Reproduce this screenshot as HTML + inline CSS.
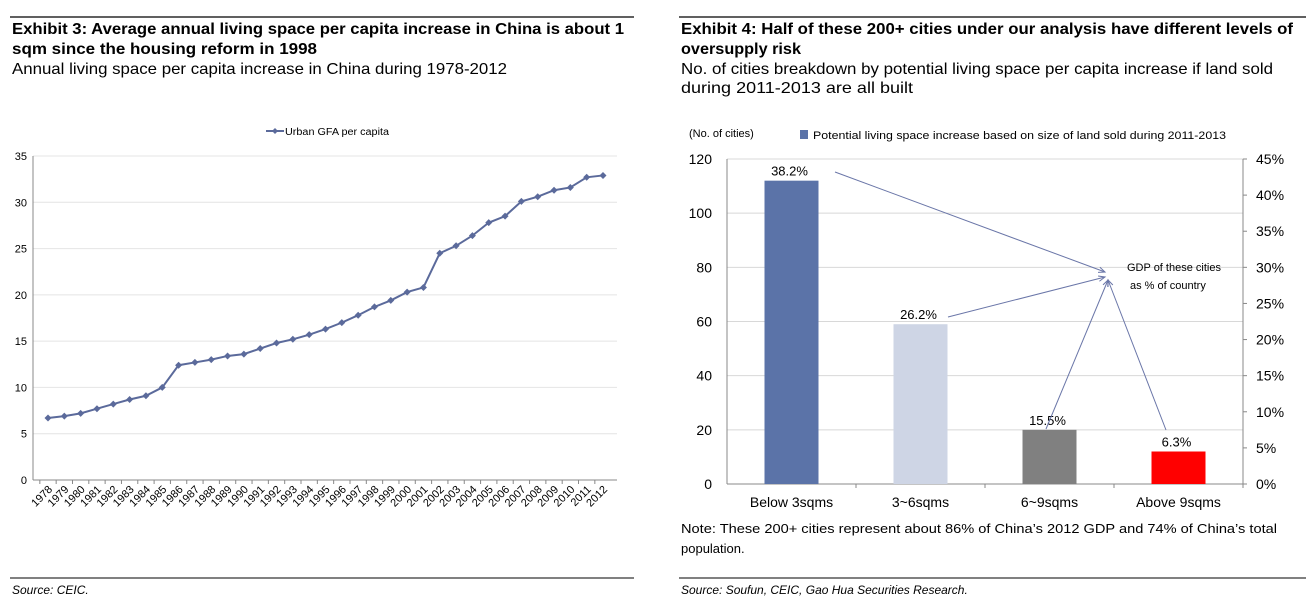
<!DOCTYPE html>
<html><head><meta charset="utf-8"><style>
body{margin:0;background:#fff;width:1316px;height:607px;overflow:hidden}
svg{display:block;font-family:"Liberation Sans",Arial,sans-serif}
</style></head><body>
<svg id="s" width="1316" height="607" viewBox="0 0 1316 607">
<g>
<line x1="10" y1="17" x2="634" y2="17" stroke="#000" stroke-width="1.2"/>
<text x="12" y="34" font-size="16" font-weight="bold" textLength="612" lengthAdjust="spacingAndGlyphs">Exhibit 3: Average annual living space per capita increase in China is about 1</text>
<text x="12" y="54" font-size="16" font-weight="bold" textLength="305" lengthAdjust="spacingAndGlyphs">sqm since the housing reform in 1998</text>
<text x="12" y="74" font-size="16" textLength="495" lengthAdjust="spacingAndGlyphs">Annual living space per capita increase in China during 1978-2012</text>
<g>
<line x1="266" y1="131" x2="284" y2="131" stroke="#5b6a9b" stroke-width="2"/>
<path d="M275 128l3 3-3 3-3-3z" fill="#5b6a9b"/>
<text x="285" y="135" font-size="10" textLength="104" lengthAdjust="spacingAndGlyphs">Urban GFA per capita</text>
</g>
<g id="lc"></g>
<line x1="10" y1="578" x2="634" y2="578" stroke="#000" stroke-width="1"/>
<text x="12" y="594" font-size="12" font-style="italic">Source: CEIC.</text>
</g>
<g>
<line x1="679" y1="17" x2="1306" y2="17" stroke="#000" stroke-width="1.2"/>
<text x="681" y="34" font-size="16" font-weight="bold" textLength="612" lengthAdjust="spacingAndGlyphs">Exhibit 4: Half of these 200+ cities under our analysis have different levels of</text>
<text x="681" y="54" font-size="16" font-weight="bold" textLength="120" lengthAdjust="spacingAndGlyphs">oversupply risk</text>
<text x="681" y="74" font-size="16" textLength="592" lengthAdjust="spacingAndGlyphs">No. of cities breakdown by potential living space per capita increase if land sold</text>
<text x="681" y="93" font-size="16" textLength="232" lengthAdjust="spacingAndGlyphs">during 2011-2013 are all built</text>
<text x="689" y="137" font-size="11">(No. of cities)</text>
<rect x="800" y="130" width="8" height="9" fill="#5b73a8"/>
<text x="813" y="139" font-size="11" textLength="413" lengthAdjust="spacingAndGlyphs">Potential living space increase based on size of land sold during 2011-2013</text>
<g id="bc"></g>
<text x="681" y="533" font-size="13" textLength="596" lengthAdjust="spacingAndGlyphs">Note: These 200+ cities represent about 86% of China’s 2012 GDP and 74% of China’s total</text>
<text x="681" y="553" font-size="13">population.</text>
<line x1="679" y1="578" x2="1306" y2="578" stroke="#000" stroke-width="1"/>
<text x="681" y="594" font-size="12" font-style="italic">Source: Soufun, CEIC, Gao Hua Securities Research.</text>
</g>
</svg>
<script>
const years=[1978,1979,1980,1981,1982,1983,1984,1985,1986,1987,1988,1989,1990,1991,1992,1993,1994,1995,1996,1997,1998,1999,2000,2001,2002,2003,2004,2005,2006,2007,2008,2009,2010,2011,2012];
const gfa=[6.7,6.9,7.2,7.7,8.2,8.7,9.1,10.0,12.4,12.7,13.0,13.4,13.6,14.2,14.8,15.2,15.7,16.3,17.0,17.8,18.7,19.4,20.3,20.8,24.5,25.3,26.4,27.8,28.5,30.1,30.6,31.3,31.6,32.7,32.9];
const yTicks=[0,5,10,15,20,25,30,35];
const cats=["Below 3sqms","3~6sqms","6~9sqms","Above 9sqms"];
const cities=[112,59,20,12];
const gdpShare=["38.2%","26.2%","15.5%","6.3%"];
const leftTicks=[0,20,40,60,80,100,120];
const rightTicks=["0%","5%","10%","15%","20%","25%","30%","35%","40%","45%"];
const NS="http://www.w3.org/2000/svg";
function mk(p,t,a,txt){const e=document.createElementNS(NS,t);for(const k in a)e.setAttribute(k,a[k]);if(txt!=null)e.textContent=txt;p.appendChild(e);return e;}
// line chart
const lc=document.getElementById('lc');
const X0=33,X1=617,Y0=480,Y1=156;
const ly=v=>Y0-(v/35)*(Y0-Y1);
const step=555/(years.length-1);
const lx=i=>48+step*i;
yTicks.forEach(t=>{
 if(t>0){const g=mk(lc,'line',{x1:X0,x2:X1,y1:ly(t),y2:ly(t),stroke:'#e4e4e4'});
 
 }
 const l=mk(lc,'text',{x:X0-6,y:ly(t)+4,'font-size':11,'text-anchor':'end'},t);
 
 
});
mk(lc,'line',{x1:X0,x2:X0,y1:Y1,y2:Y0,stroke:'#888'});
mk(lc,'line',{x1:X0,x2:X1,y1:Y0,y2:Y0,stroke:'#888'});
years.forEach((y,i)=>{
 mk(lc,'line',{x1:lx(i)-step/2,x2:lx(i)-step/2,y1:Y0,y2:Y0+4,stroke:'#888'});
 const t=mk(lc,'text',{x:0,y:0,'font-size':11,'text-anchor':'end',transform:`translate(${lx(i)+5},${Y0+10}) rotate(-45)`},y);
 
 
});
const path=mk(lc,'polyline',{points:gfa.map((v,i)=>lx(i)+','+ly(v)).join(' '),fill:'none',stroke:'#5b6a9b','stroke-width':2});


gfa.forEach((v,i)=>{const x=lx(i),y=ly(v);
 const m=mk(lc,'path',{d:`M${x} ${y-3.5}l3.5 3.5-3.5 3.5-3.5-3.5z`,fill:'#5b6a9b'});
 
 
});
// bar chart
const bc=document.getElementById('bc');
const B0=727,B1=1243,BY0=484,BY1=159;
const by=v=>BY0-(v/120)*(BY0-BY1);
const bstep=(B1-B0)/cats.length;
leftTicks.forEach(t=>{
 if(t>0){const g=mk(bc,'line',{x1:B0,x2:B1,y1:by(t),y2:by(t),stroke:'#d8d8d8'});
 
 }
 const l=mk(bc,'text',{x:B0-15,y:by(t)+5,'font-size':14,'text-anchor':'end'},t);
 
 
});
rightTicks.forEach((t,i)=>{const y=BY0-(i/(rightTicks.length-1))*(BY0-BY1);
 mk(bc,'line',{x1:B1,x2:B1+4,y1:y,y2:y,stroke:'#888'});
 const l=mk(bc,'text',{x:1256,y:y+5,'font-size':14},t);
 
 
});
mk(bc,'line',{x1:B0,x2:B0,y1:BY1,y2:BY0,stroke:'#888'});
mk(bc,'line',{x1:B1,x2:B1,y1:BY1,y2:BY0,stroke:'#888'});
mk(bc,'line',{x1:B0,x2:B1,y1:BY0,y2:BY0,stroke:'#888'});
const cols=['#5b73a8','#ced5e5','#808080','#ff0000'];
cats.forEach((c,i)=>{const cx=B0+bstep*(i+0.5);
 mk(bc,'line',{x1:B0+bstep*(i+1),x2:B0+bstep*(i+1),y1:BY0,y2:BY0+4,stroke:'#888'});
 const r=mk(bc,'rect',{x:cx-27,y:by(cities[i]),width:54,height:BY0-by(cities[i]),fill:cols[i]});
 
 
 const v=mk(bc,'text',{x:cx-2,y:by(cities[i])-5,'font-size':13,'text-anchor':'middle'},gdpShare[i]);
 
 
 const l=mk(bc,'text',{x:cx,y:507,'font-size':14,'text-anchor':'middle'},c);
 
 
});
// annotation
const ann=mk(bc,'g',{stroke:'#6a76a8','stroke-width':1,fill:'none'});


const tx=1108,ty=280;
[[835,172,tx-3,ty-8],[948,317,tx-3,ty-3],[1046,429,tx,ty],[1166,430,tx,ty]].forEach(a=>{
 mk(ann,'line',{x1:a[0],y1:a[1],x2:a[2],y2:a[3]});
 const ang=Math.atan2(a[3]-a[1],a[2]-a[0]);
 const h=7;
 mk(ann,'polyline',{points:`${a[2]-h*Math.cos(ang-0.4)},${a[3]-h*Math.sin(ang-0.4)} ${a[2]},${a[3]} ${a[2]-h*Math.cos(ang+0.4)},${a[3]-h*Math.sin(ang+0.4)}`});
});
const at=mk(bc,'text',{x:1127,y:271,'font-size':11},'GDP of these cities');


mk(bc,'text',{x:1130,y:289,'font-size':11},'as %  of country');
</script>
</body></html>
